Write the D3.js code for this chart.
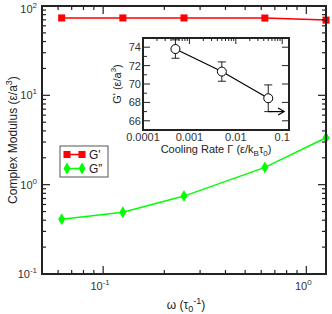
<!DOCTYPE html>
<html>
<head>
<meta charset="utf-8">
<script src="https://cdn.jsdelivr.net/npm/d3@7"></script>
<style>
  body { margin: 0; background: #fff; }
  svg { display: block; font-family: "Liberation Sans", Arial, sans-serif; }
</style>
</head>
<body>
<div class="chart__container"></div>
<script>
/*-------------------------------------DATA-------------------------------------*/

const OMEGA = [0.0625, 0.125, 0.25, 0.625, 1.25];
const G_STORAGE = [73.5, 73.5, 73.5, 73.3, 69.5];
const G_LOSS = [0.41, 0.49, 0.745, 1.56, 3.35];

const COOL_RATE = [0.0005, 0.005, 0.05];
const G_INSET = [73.8, 71.35, 68.45];
const G_INSET_ERR = [1.0, 1.05, 1.45];

const INSET_X_TICKS = [0.0001, 0.001, 0.01, 0.1];
const INSET_Y_TICKS = [66, 68, 70, 72, 74];

/*-------------------------------------INIT-------------------------------------*/

const CHART__WIDTH = 332;
const CHART__HEIGHT = 314;
const AXIS_COLOR = "#222";

const MAIN = { left: 42, right: 326, top: 6, bottom: 274 };
const INSET = { left: 143, right: 289, top: 38, bottom: 130 };

const SVG = d3.select(".chart__container").append("svg")
    .attr("width", CHART__WIDTH).attr("height", CHART__HEIGHT);

const x = d3.scaleLog().domain([0.05, 1.25]).range([MAIN.left, MAIN.right]);
const y = d3.scaleLog().domain([0.1, 100]).range([MAIN.bottom, MAIN.top]);

const xi = d3.scaleLog().domain([0.0001, 0.14]).range([INSET.left, INSET.right]);
const yi = d3.scaleLinear().domain([65, 75]).range([INSET.bottom, INSET.top]);

const isDecade = v => Math.abs(Math.log10(v) - Math.round(Math.log10(v))) < 1e-6;

// power-of-ten label with superscript
const powLabel = (sel, v) => {
    sel.text("10");
    sel.append("tspan").attr("dy", -5).attr("font-size", 8).text(Math.round(Math.log10(v)));
};

/*-------------------------------------MAIN-------------------------------------*/

// lines
const gLine = d3.line().x((d, i) => x(OMEGA[i])).y(d => y(d));

SVG.append("path").datum(G_STORAGE).attr("d", gLine)
    .attr("fill", "none").attr("stroke", "#ff0000").attr("stroke-width", 1.5);
SVG.append("path").datum(G_LOSS).attr("d", gLine)
    .attr("fill", "none").attr("stroke", "#00ff00").attr("stroke-width", 1.5);

const square = d3.symbol().type(d3.symbolSquare).size(50);
const diamond = d3.symbol().type(d3.symbolDiamond).size(42);

SVG.selectAll(".sq").data(G_STORAGE).join("path").attr("class", "sq")
    .attr("d", square).attr("fill", "#ff0000")
    .attr("transform", (d, i) => `translate(${x(OMEGA[i])},${y(d)})`);
SVG.selectAll(".dm").data(G_LOSS).join("path").attr("class", "dm")
    .attr("d", diamond).attr("fill", "#00ff00")
    .attr("transform", (d, i) => `translate(${x(OMEGA[i])},${y(d)})`);

// ticks
const xTicks = x.ticks().filter(v => v >= 0.05 && v <= 1.25);
const yTicks = y.ticks();

const mainTicks = SVG.append("g").attr("stroke", AXIS_COLOR).attr("stroke-width", 1.2);

xTicks.forEach(v => {
    const len = isDecade(v) ? 8 : 4;
    mainTicks.append("line").attr("x1", x(v)).attr("x2", x(v))
        .attr("y1", MAIN.bottom).attr("y2", MAIN.bottom - len);
    mainTicks.append("line").attr("x1", x(v)).attr("x2", x(v))
        .attr("y1", MAIN.top).attr("y2", MAIN.top + len);
});
yTicks.forEach(v => {
    const len = isDecade(v) ? 8 : 4;
    mainTicks.append("line").attr("y1", y(v)).attr("y2", y(v))
        .attr("x1", MAIN.left).attr("x2", MAIN.left + len);
    mainTicks.append("line").attr("y1", y(v)).attr("y2", y(v))
        .attr("x1", MAIN.right).attr("x2", MAIN.right - len);
});

SVG.append("rect")
    .attr("x", MAIN.left).attr("y", MAIN.top)
    .attr("width", MAIN.right - MAIN.left).attr("height", MAIN.bottom - MAIN.top)
    .attr("fill", "none").attr("stroke", AXIS_COLOR).attr("stroke-width", 2);

// tick labels
xTicks.filter(isDecade).forEach(v => {
    SVG.append("text").attr("x", x(v) - 3).attr("y", MAIN.bottom + 16)
        .attr("text-anchor", "middle").attr("font-size", 11).attr("fill", "#333")
        .call(powLabel, v);
});
yTicks.filter(isDecade).forEach(v => {
    SVG.append("text").attr("x", MAIN.left - 5).attr("y", Math.max(y(v) + 4, 13))
        .attr("text-anchor", "end").attr("font-size", 11).attr("fill", "#333")
        .call(powLabel, v);
});

// axis titles
const yTitle = SVG.append("text")
    .attr("transform", `translate(17,${(MAIN.top + MAIN.bottom) / 2}) rotate(-90)`)
    .attr("text-anchor", "middle").attr("font-size", 12).attr("fill", "#222")
    .text("Complex Modulus (ε/a");
yTitle.append("tspan").attr("dy", -5).attr("font-size", 9).text("3");
yTitle.append("tspan").attr("dy", 5).text(")");

const xTitle = SVG.append("text").attr("x", 186).attr("y", 309)
    .attr("text-anchor", "middle").attr("font-size", 12).attr("fill", "#222")
    .text("ω (τ");
xTitle.append("tspan").attr("dy", 3).attr("font-size", 9).text("0");
xTitle.append("tspan").attr("dy", -8).attr("font-size", 9).text("-1");
xTitle.append("tspan").attr("dy", 5).text(")");

// legend
const legend = SVG.append("g");
legend.append("rect").attr("x", 60).attr("y", 146).attr("width", 48).attr("height", 31)
    .attr("fill", "#fff").attr("stroke", "#555").attr("stroke-width", 1);

const LEGEND_ITEMS = [
    { label: "G'", color: "#ff0000", sym: square },
    { label: "G\u201D", color: "#00ff00", sym: diamond }
];
LEGEND_ITEMS.forEach((d, i) => {
    const ly = 154.5 + i * 14;
    legend.append("line").attr("x1", 67).attr("x2", 82).attr("y1", ly).attr("y2", ly)
        .attr("stroke", d.color).attr("stroke-width", 1.5);
    [67, 82].forEach(lx => legend.append("path").attr("d", d.sym)
        .attr("fill", d.color).attr("transform", `translate(${lx},${ly})`));
    legend.append("text").attr("x", 89).attr("y", ly + 4.5)
        .attr("font-size", 12).attr("fill", "#222").text(d.label);
});

/*-------------------------------------INSET-------------------------------------*/

SVG.append("rect")
    .attr("x", INSET.left).attr("y", INSET.top)
    .attr("width", INSET.right - INSET.left).attr("height", INSET.bottom - INSET.top)
    .attr("fill", "#fff");

const insetTicks = SVG.append("g").attr("stroke", AXIS_COLOR).attr("stroke-width", 1);

xi.ticks().filter(v => v >= 0.0001 && v <= 0.14).forEach(v => {
    const len = isDecade(v) ? 6 : 3;
    insetTicks.append("line").attr("x1", xi(v)).attr("x2", xi(v))
        .attr("y1", INSET.top).attr("y2", INSET.top + len);
});
d3.range(66, 75).forEach(v => {
    const major = v % 2 === 0;
    insetTicks.append("line").attr("y1", yi(v)).attr("y2", yi(v))
        .attr("x1", INSET.left).attr("x2", INSET.left + (major ? 7 : 4));
    if (major) insetTicks.append("line").attr("y1", yi(v)).attr("y2", yi(v))
        .attr("x1", INSET.right).attr("x2", INSET.right - 7);
});

SVG.append("rect")
    .attr("x", INSET.left).attr("y", INSET.top)
    .attr("width", INSET.right - INSET.left).attr("height", INSET.bottom - INSET.top)
    .attr("fill", "none").attr("stroke", AXIS_COLOR).attr("stroke-width", 2);

// inset data
SVG.append("path").datum(G_INSET)
    .attr("d", d3.line().x((d, i) => xi(COOL_RATE[i])).y(d => yi(d)))
    .attr("fill", "none").attr("stroke", "#000").attr("stroke-width", 1.2);

G_INSET.forEach((d, i) => {
    const cx = xi(COOL_RATE[i]);
    const top = yi(d + G_INSET_ERR[i]), bot = yi(d - G_INSET_ERR[i]);
    const eb = SVG.append("g").attr("stroke", "#222").attr("stroke-width", 1);
    eb.append("line").attr("x1", cx).attr("x2", cx).attr("y1", top).attr("y2", bot);
    eb.append("line").attr("x1", cx - 4).attr("x2", cx + 4).attr("y1", top).attr("y2", top);
    eb.append("line").attr("x1", cx - 4).attr("x2", cx + 4).attr("y1", bot).attr("y2", bot);
    SVG.append("circle").attr("cx", cx).attr("cy", yi(d)).attr("r", 4.5)
        .attr("fill", "#fff").attr("stroke", "#000").attr("stroke-width", 1);
});

// arrow beyond last point
const lastX = xi(COOL_RATE[2]), arrowY = yi(G_INSET[2] - G_INSET_ERR[2]);
const tipX = xi(0.11);
SVG.append("line").attr("x1", lastX).attr("x2", tipX).attr("y1", arrowY).attr("y2", arrowY)
    .attr("stroke", "#000").attr("stroke-width", 1.2);
SVG.append("path")
    .attr("d", `M${tipX - 6},${arrowY - 3.5} L${tipX},${arrowY} L${tipX - 6},${arrowY + 3.5}`)
    .attr("fill", "none").attr("stroke", "#000").attr("stroke-width", 1.2);

// inset labels
INSET_X_TICKS.forEach(v => {
    SVG.append("text").attr("x", xi(v)).attr("y", INSET.bottom + 11)
        .attr("text-anchor", "middle").attr("font-size", 11).attr("fill", "#333").text(v);
});
INSET_Y_TICKS.forEach(v => {
    SVG.append("text").attr("x", INSET.left - 2).attr("y", yi(v) + 4)
        .attr("text-anchor", "end").attr("font-size", 11).attr("fill", "#333").text(v);
});

const iyTitle = SVG.append("text")
    .attr("transform", `translate(121,${(INSET.top + INSET.bottom) / 2}) rotate(-90)`)
    .attr("text-anchor", "middle").attr("font-size", 11).attr("fill", "#222")
    .text("G' (ε/a");
iyTitle.append("tspan").attr("dy", -5).attr("font-size", 8).text("3");
iyTitle.append("tspan").attr("dy", 5).text(")");

const ixTitle = SVG.append("text").attr("x", 216).attr("y", 153)
    .attr("text-anchor", "middle").attr("font-size", 11).attr("fill", "#222")
    .text("Cooling Rate Γ (ε/k");
ixTitle.append("tspan").attr("dy", 3).attr("font-size", 8).text("B");
ixTitle.append("tspan").attr("dy", -3).text("τ");
ixTitle.append("tspan").attr("dy", 3).attr("font-size", 8).text("0");
ixTitle.append("tspan").attr("dy", -3).text(")");
</script>
</body>
</html>
